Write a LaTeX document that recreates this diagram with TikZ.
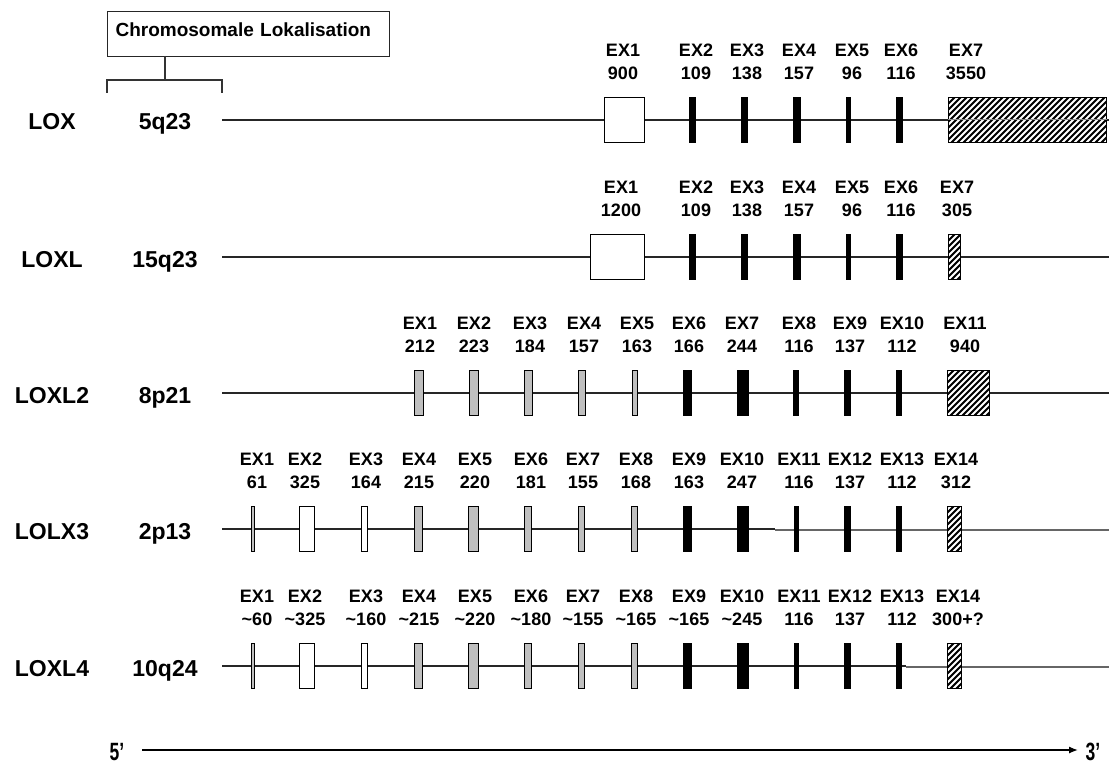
\documentclass[tikz,border=0pt]{standalone}
\usepackage{fontspec}
\setmainfont{Liberation Sans}
\usetikzlibrary{arrows.meta}
\tikzset{
  geneline/.style={draw=black!85, line width=1.3pt},
  exon/.style={rectangle, draw=black, line width=1.1pt, inner sep=0pt, minimum height=45pt},
  exblack/.style={exon, fill=black},
  exwhite/.style={exon, fill=white},
  exgray/.style={exon, fill=black!25},
  exhatch/.style={exon, fill=black, path picture={
      \foreach \i in {-10,...,30}{
        \draw[white, line width=2pt] ([xshift=\i*6pt]path picture bounding box.south west) -- ++(70pt,70pt);
      }}},
  lab/.style={font=\fontsize{18}{18}\selectfont\bfseries, inner sep=0pt, anchor=base},
  gene/.style={font=\fontsize{23}{23}\selectfont\bfseries, inner sep=0pt, anchor=base},
  bracketline/.style={draw=black!80, line width=1.2pt},
  endlab/.style={font=\fontsize{25}{25}\selectfont\bfseries, inner sep=0pt, anchor=base, xscale=0.7},
}
\newcommand\exn[5]{\node[#5, minimum width={#3-#2-1}] (#1) at ({(#2+#3)/2},#4) {};}
\newcommand\exlab[5]{%
  \node[lab] (#1t) at (#2,#3-63.5) {#4};
  \node[lab] (#1n) at (#2,#3-40.5) {#5};}
\newcommand\tld{\textasciitilde}
\begin{document}
\begin{tikzpicture}[x=1pt,y=-1pt]
\useasboundingbox (0,0) rectangle (1109,765);

% header box and bracket
\node[draw=black!85, line width=1.2pt, anchor=north west, inner xsep=8pt, inner ysep=11pt,
      text width=266pt, align=left, text height=14pt, text depth=9pt,
      font=\fontsize{19}{19}\selectfont\bfseries] (chrbox) at (107,11) {Chromosomale Lokalisation};
\coordinate (stemtop) at (165,56);
\coordinate (stembot) at (165,80);
\coordinate (brl) at (107,93);
\coordinate (brr) at (222,93);
\draw[bracketline] (stemtop) -- (stembot);
\draw[bracketline] (brl) -- (brl |- stembot) -- (brr |- stembot) -- (brr);

% ---------------- gene labels
\node[gene] (g1) at (52,130) {LOX};     \node[gene] (c1) at (165,130) {5q23};
\node[gene] (g2) at (52,267) {LOXL};    \node[gene] (c2) at (165,267) {15q23};
\node[gene] (g3) at (52,403) {LOXL2};   \node[gene] (c3) at (165,403) {8p21};
\node[gene] (g4) at (52,539) {LOLX3};   \node[gene] (c4) at (165,539) {2p13};
\node[gene] (g5) at (52,676) {LOXL4};   \node[gene] (c5) at (165,676) {10q24};

% ---------------- gene lines
\coordinate (r1s) at (222,120); \coordinate (r1e) at (1109,120);
\coordinate (r2s) at (222,257); \coordinate (r2e) at (1109,257);
\coordinate (r3s) at (222,393); \coordinate (r3e) at (1109,393);
\coordinate (r4s) at (222,529); \coordinate (r4m) at (775,529);
\coordinate (r4m2) at (775,530); \coordinate (r4e) at (1109,530);
\coordinate (r5s) at (222,666); \coordinate (r5m) at (906,666);
\coordinate (r5m2) at (906,667); \coordinate (r5e) at (1109,667);
\draw[geneline] (r1s) -- (r1e);
\draw[geneline] (r2s) -- (r2e);
\draw[geneline] (r3s) -- (r3e);
\draw[geneline] (r4s) -- (r4m);
\draw[geneline, draw=black!60] (r4m2) -- (r4e);
\draw[geneline] (r5s) -- (r5m);
\draw[geneline, draw=black!60] (r5m2) -- (r5e);

% ---------------- LOX
\exn{a1}{604}{645}{120}{exwhite}   \exlab{a1}{623}{120}{EX1}{900}
\exn{a2}{689}{696}{120}{exblack}   \exlab{a2}{696}{120}{EX2}{109}
\exn{a3}{741}{748}{120}{exblack}   \exlab{a3}{747}{120}{EX3}{138}
\exn{a4}{793}{801}{120}{exblack}   \exlab{a4}{799}{120}{EX4}{157}
\exn{a5}{846}{851}{120}{exblack}   \exlab{a5}{852}{120}{EX5}{96}
\exn{a6}{896}{903}{120}{exblack}   \exlab{a6}{901}{120}{EX6}{116}
\exn{a7}{948}{1107}{120}{exhatch}  \exlab{a7}{966}{120}{EX7}{3550}
\draw[draw=black!45, line width=1pt] (a7.west) -- (a7.east);

% ---------------- LOXL
\exn{b1}{590}{645}{257}{exwhite}   \exlab{b1}{621}{257}{EX1}{1200}
\exn{b2}{689}{696}{257}{exblack}   \exlab{b2}{696}{257}{EX2}{109}
\exn{b3}{741}{748}{257}{exblack}   \exlab{b3}{747}{257}{EX3}{138}
\exn{b4}{793}{801}{257}{exblack}   \exlab{b4}{799}{257}{EX4}{157}
\exn{b5}{846}{851}{257}{exblack}   \exlab{b5}{852}{257}{EX5}{96}
\exn{b6}{896}{903}{257}{exblack}   \exlab{b6}{901}{257}{EX6}{116}
\exn{b7}{948}{961}{257}{exhatch}   \exlab{b7}{957}{257}{EX7}{305}

% ---------------- LOXL2
\exn{c1}{414}{424}{393}{exgray}    \exlab{c1}{420}{393}{EX1}{212}
\exn{c2}{469}{479}{393}{exgray}    \exlab{c2}{474}{393}{EX2}{223}
\exn{c3}{524}{533}{393}{exgray}    \exlab{c3}{530}{393}{EX3}{184}
\exn{c4}{578}{586}{393}{exgray}    \exlab{c4}{584}{393}{EX4}{157}
\exn{c5}{632}{638}{393}{exgray}    \exlab{c5}{637}{393}{EX5}{163}
\exn{c6}{683}{692}{393}{exblack}   \exlab{c6}{689}{393}{EX6}{166}
\exn{c7}{737}{749}{393}{exblack}   \exlab{c7}{742}{393}{EX7}{244}
\exn{c8}{793}{799}{393}{exblack}   \exlab{c8}{799}{393}{EX8}{116}
\exn{c9}{844}{851}{393}{exblack}   \exlab{c9}{850}{393}{EX9}{137}
\exn{c10}{896}{902}{393}{exblack}  \exlab{c10}{902}{393}{EX10}{112}
\exn{c11}{947}{990}{393}{exhatch}  \exlab{c11}{965}{393}{EX11}{940}

% ---------------- LOLX3
\exn{d1}{251}{255}{529}{exgray}    \exlab{d1}{257}{529}{EX1}{61}
\exn{d2}{299}{315}{529}{exwhite}   \exlab{d2}{305}{529}{EX2}{325}
\exn{d3}{361}{368}{529}{exwhite}   \exlab{d3}{366}{529}{EX3}{164}
\exn{d4}{414}{423}{529}{exgray}    \exlab{d4}{419}{529}{EX4}{215}
\exn{d5}{468}{479}{529}{exgray}    \exlab{d5}{475}{529}{EX5}{220}
\exn{d6}{524}{532}{529}{exgray}    \exlab{d6}{531}{529}{EX6}{181}
\exn{d7}{578}{585}{529}{exgray}    \exlab{d7}{583}{529}{EX7}{155}
\exn{d8}{631}{638}{529}{exgray}    \exlab{d8}{636}{529}{EX8}{168}
\exn{d9}{683}{692}{529}{exblack}   \exlab{d9}{689}{529}{EX9}{163}
\exn{d10}{737}{749}{529}{exblack}  \exlab{d10}{742}{529}{EX10}{247}
\exn{d11}{794}{799}{529}{exblack}  \exlab{d11}{799}{529}{EX11}{116}
\exn{d12}{844}{851}{529}{exblack}  \exlab{d12}{850}{529}{EX12}{137}
\exn{d13}{896}{902}{529}{exblack}  \exlab{d13}{902}{529}{EX13}{112}
\exn{d14}{947}{962}{529}{exhatch}  \exlab{d14}{956}{529}{EX14}{312}

% ---------------- LOXL4
\exn{e1}{251}{255}{666}{exgray}    \exlab{e1}{257}{666}{EX1}{\tld 60}
\exn{e2}{299}{315}{666}{exwhite}   \exlab{e2}{305}{666}{EX2}{\tld 325}
\exn{e3}{361}{368}{666}{exwhite}   \exlab{e3}{366}{666}{EX3}{\tld 160}
\exn{e4}{414}{423}{666}{exgray}    \exlab{e4}{419}{666}{EX4}{\tld 215}
\exn{e5}{468}{479}{666}{exgray}    \exlab{e5}{475}{666}{EX5}{\tld 220}
\exn{e6}{524}{532}{666}{exgray}    \exlab{e6}{531}{666}{EX6}{\tld 180}
\exn{e7}{578}{585}{666}{exgray}    \exlab{e7}{583}{666}{EX7}{\tld 155}
\exn{e8}{631}{638}{666}{exgray}    \exlab{e8}{636}{666}{EX8}{\tld 165}
\exn{e9}{683}{692}{666}{exblack}   \exlab{e9}{689}{666}{EX9}{\tld 165}
\exn{e10}{737}{749}{666}{exblack}  \exlab{e10}{742}{666}{EX10}{\tld 245}
\exn{e11}{794}{799}{666}{exblack}  \exlab{e11}{799}{666}{EX11}{116}
\exn{e12}{844}{851}{666}{exblack}  \exlab{e12}{850}{666}{EX12}{137}
\exn{e13}{896}{902}{666}{exblack}  \exlab{e13}{902}{666}{EX13}{112}
\exn{e14}{947}{962}{666}{exhatch}  \exlab{e14}{958}{666}{EX14}{300+?}

% ---------------- 5' -> 3'
\node[endlab] (p5) at (117,760) {5’};
\node[endlab] (p3) at (1093,760) {3’};
\coordinate (a5) at (142,750);
\coordinate (a3) at (1078,750);
\draw[black, line width=1.3pt, -{Latex[length=9pt,width=7pt]}] (a5) -- (a3);
\end{tikzpicture}
\end{document}
